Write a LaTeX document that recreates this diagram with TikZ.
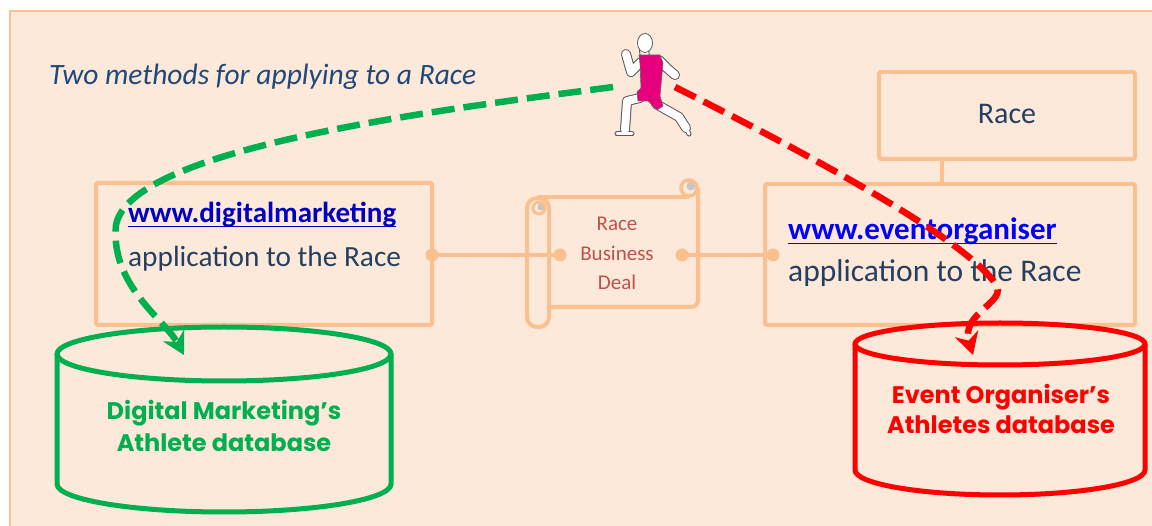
\documentclass[tikz,border=0pt]{standalone}
\usepackage{fontspec}
\setmainfont{Carlito}
\newfontfamily\dbfont{Poppins}
\usetikzlibrary{arrows.meta}
\definecolor{peach}{HTML}{FDE9DA}
\definecolor{frame}{HTML}{FAC090}
\definecolor{titleblue}{HTML}{1F497D}
\definecolor{slate}{HTML}{243F60}
\definecolor{linkdark}{HTML}{0000C0}
\definecolor{linkblue}{HTML}{0000FF}
\definecolor{dealred}{HTML}{C0504D}
\definecolor{dbgreen}{HTML}{00B050}
\definecolor{dbred}{HTML}{FF0000}
\definecolor{jersey}{HTML}{E6007E}
\begin{document}
\begin{tikzpicture}[x=1pt,y=-1pt,
  box/.style={draw=frame, line width=4pt, rounded corners=2pt, inner sep=0pt},
  txt/.style={inner sep=0pt, anchor=base west},
  ctxt/.style={inner sep=0pt, anchor=base},
  link/.style={draw=frame, line width=4pt},
  dot/.style={fill=frame},
  scrollline/.style={draw=frame, line width=4pt},
  dbline/.style={line width=5pt},
  dbtext/.style={ctxt, font=\dbfont\bfseries\fontsize{24}{28}\selectfont},
  route/.style={line width=6.5pt, dash pattern=on 23pt off 9pt,
    -{Stealth[length=22pt,width=24pt,inset=7pt]}},
  limbout/.style={draw=black!65, line width=10pt, line cap=round, line join=round},
  limbin/.style={draw=white, line width=8pt, line cap=round, line join=round}]
\useasboundingbox (0,0) rectangle (1152,526);
\fill[white] (0,0) rectangle (1152,526);
% page panel
\draw[fill=peach, draw=frame, line width=2pt] (10,11) rectangle (1170,540);

% title
\node[txt, font=\fontsize{29.5}{35}\selectfont\itshape, text=titleblue] (title) at (49,85)
  {Two methods for applying to a Race};

% boxes
\node[box, minimum width=336pt, minimum height=142pt] (dmbox) at (264,254) {};
\node[box, minimum width=370pt, minimum height=141pt] (eobox) at (950,254.5) {};
\node[box, minimum width=256pt, minimum height=87pt] (racebox) at (1007,115.5) {};
\node[ctxt, font=\fontsize{30}{36}\selectfont, text=slate] (racetxt) at (1007,124) {Race};

\node[txt, font=\fontsize{29}{35}\selectfont\bfseries, text=linkdark] (dmurl) at (128,223) {www.digitalmarketing};
\draw[linkdark, line width=1.6pt] ([yshift=-3.5pt]dmurl.base west) -- ([yshift=-3.5pt]dmurl.base east);
\node[txt, font=\fontsize{29.3}{35}\selectfont, text=slate] (dmapp) at (128,267) {application to the Race};

\node[txt, font=\fontsize{31}{37}\selectfont\bfseries, text=linkblue] (eourl) at (788,240) {www.eventorganiser};
\draw[linkblue, line width=1.7pt] ([yshift=-3.5pt]eourl.base west) -- ([yshift=-3.5pt]eourl.base east);
\node[txt, font=\fontsize{31.5}{37}\selectfont, text=slate] (eoapp) at (788,282) {application to the Race};

% scroll holding the deal
\draw[scrollline] (538,197) -- (689,197);
\draw[scrollline, rounded corners=7pt] (698,188) -- (698,307) -- (549,307);
\draw[scrollline, rounded corners=10pt] (527,198) rectangle (549,327);
\fill[gray!45] (691,186) circle (4.5pt);
\draw[frame, line width=3.5pt] (689,188) circle (8pt);
\fill[gray!45] (541,207) circle (3.5pt);
\draw[frame, line width=3pt] (539,208) circle (6pt);
\node[ctxt, font=\fontsize{21}{25}\selectfont, text=dealred] (deal1) at (617,231) {Race};
\node[ctxt, font=\fontsize{21}{25}\selectfont, text=dealred] (deal2) at (617,261) {Business};
\node[ctxt, font=\fontsize{21}{25}\selectfont, text=dealred] (deal3) at (617,290) {Deal};

% connectors
\coordinate (dealL) at (560,255);
\coordinate (dealR) at (682,255);
\coordinate (eoL) at (773,255);
\coordinate (dmR) at (432,255);
\coordinate (stem) at (942,0);
\draw[link] (dmR) -- (dealL);
\draw[link] (dealR) -- (eoL);
\foreach \p in {dmR,dealL,dealR,eoL} \fill[dot] (\p) circle (6.5pt);
\draw[link] (racebox.south -| stem) -- (eobox.north -| stem);

% databases
\draw[dbgreen, dbline] (57,354) -- (57,484) arc[start angle=180, end angle=360, x radius=167pt, y radius=28pt] -- (391,354);
\draw[dbgreen, dbline] (224,354) ellipse [x radius=167pt, y radius=27pt];
\node[dbtext, text=dbgreen] (dmdb1) at (224,420) {Digital Marketing’s};
\node[dbtext, text=dbgreen] (dmdb2) at (224,452) {Athlete database};

\draw[dbred, dbline] (855,344) -- (855,470) arc[start angle=180, end angle=360, x radius=145pt, y radius=25pt] -- (1145,344);
\draw[dbred, dbline] (1000,344) ellipse [x radius=145pt, y radius=21pt];
\node[dbtext, text=dbred] (eodb1) at (1001,404) {Event Organiser’s};
\node[dbtext, text=dbred] (eodb2) at (1001,434) {Athletes database};

% the two application routes
\coordinate (runL) at (613,87);
\coordinate (runR) at (675,87);
\coordinate (dmTop) at (184,355);
\coordinate (eoTop) at (973,355);
\draw[route, dbgreen] (runL) .. controls (420,112) and (130,150) .. (116,225)
  .. controls (110,285) and (165,320) .. (dmTop);
\draw[route, dbred] (runR) .. controls (800,150) and (960,235) .. (995,283)
  .. controls (1010,302) and (960,312) .. (eoTop);

% runner
\draw[limbout] (640,98) -- (627,101) -- (625,130);
\draw[limbout, line width=5pt] (617,134) -- (632,134);
\draw[limbout] (656,104) -- (679,117) -- (686,128);
\draw[limbout, line width=5pt] (684,124) -- (689,134);
\draw[limbout] (641,62) -- (631,72) -- (626,54);
\draw[limbout] (659,60) -- (668,69) -- (675,75);
\draw[limbout] (644,50) -- (645,57);
\draw[limbin] (640,98) -- (627,101) -- (625,130);
\draw[limbin, line width=3pt] (617,134) -- (632,134);
\draw[limbin] (656,104) -- (679,117) -- (686,128);
\draw[limbin, line width=3pt] (684,124) -- (689,134);
\draw[limbin] (641,62) -- (631,72) -- (626,54);
\draw[limbin] (659,60) -- (668,69) -- (675,75);
\draw[limbin] (644,50) -- (645,57);
\draw[fill=white, draw=black!65, line width=0.8pt] (645,43) ellipse [x radius=7.5pt, y radius=9.5pt];
\draw[fill=jersey, draw=black!60, line width=0.6pt, line join=round]
  (639,55) -- (660,55) -- (663,63) -- (660,96) -- (663,106) -- (657,110) -- (648,101)
  -- (638,101) -- (637,92) -- (641,88) -- (640,64) -- cycle;
\end{tikzpicture}
\end{document}
